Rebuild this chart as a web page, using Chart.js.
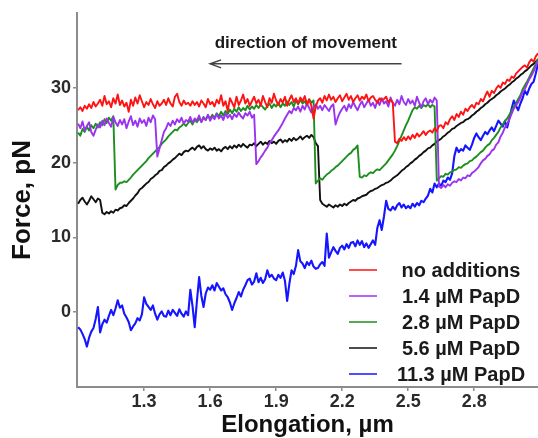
<!DOCTYPE html>
<html>
<head>
<meta charset="utf-8">
<script src="https://cdn.jsdelivr.net/npm/chart.js@4.4.1/dist/chart.umd.min.js"></script>
<style>
  html, body { margin: 0; padding: 0; background: #fff; }
  #wrap { width: 538px; height: 438px; }
</style>
</head>
<body>
<div id="wrap"><canvas id="chart" width="538" height="438"></canvas></div>
<script>
// elongation sampled every 0.01 um from 1.00 to 3.09
const xStart = 1.0;
const xStep = 0.01;

const xTicks = [1.3, 1.6, 1.9, 2.2, 2.5, 2.8];
const yTicks = [0, 10, 20, 30];

const labels = ['no additions', '1.4 \u00b5M PapD', '2.8 \u00b5M PapD', '5.6 \u00b5M PapD', '11.3 \u00b5M PapD'];
const colors = ['#ff1212', '#9a33f0', '#1e8e1e', '#111111', '#1515ff'];

const noAdditions = [
  27.0, 27.4, 26.9, 27.6, 27.2, 27.8, 27.3, 28.1, 27.5, 27.9,
  28.4, 27.6, 28.9, 27.8, 28.2, 27.4, 28.6, 27.9, 29.1, 27.7,
  28.3, 27.5, 28.0, 26.8, 28.4, 27.6, 28.7, 27.9, 29.0, 28.2,
  27.4, 28.1, 27.7, 28.5, 27.8, 27.3, 28.2, 27.6, 27.9, 28.4,
  27.7, 28.6, 27.9, 27.5, 28.8, 29.2, 28.1, 27.6, 28.3, 27.8,
  28.0, 27.6, 28.2, 27.7, 28.1, 27.5, 28.3, 27.9, 27.4, 28.5,
  27.8, 28.1, 27.5, 28.4, 27.9, 29.0, 27.6, 28.2, 26.9, 28.6,
  28.0, 27.4, 28.8, 27.7, 28.3, 29.1, 27.9, 28.5, 27.6, 28.2,
  28.8, 27.9, 28.4, 27.6, 28.9, 28.1, 27.4, 28.6, 28.0, 29.2,
  28.3, 27.7, 28.5, 28.0, 28.8, 27.6, 28.4, 29.0, 28.1, 28.6,
  27.9, 28.7, 28.2, 28.9, 27.8, 28.4, 27.6, 25.9, 27.5, 28.3,
  28.6, 28.0, 28.9, 28.3, 29.1, 28.4, 28.8, 28.1, 28.6, 29.0,
  28.2, 28.7, 29.2, 28.4, 28.9, 28.1, 28.6, 29.0, 28.3, 28.8,
  28.5, 29.1, 28.2, 28.7, 28.9, 28.4, 28.0, 28.6, 28.3, 28.5,
  28.8, 28.1, 28.4, 28.0, 22.8, 22.6, 23.2, 22.9, 23.4, 23.0,
  23.5, 23.1, 23.7, 23.3, 23.9, 23.5, 23.8, 24.2, 23.7, 24.1,
  24.3, 24.0, 24.6, 24.2, 24.9, 25.0, 24.6, 25.4, 25.1, 25.8,
  26.2, 25.7, 26.5, 26.1, 26.8, 26.4, 27.2, 26.9, 27.4, 27.7,
  27.3, 28.0, 27.8, 28.5, 28.2, 28.9, 29.5, 28.8, 29.6, 29.3,
  29.9, 30.3, 30.0, 30.7, 30.5, 31.1, 30.9, 31.5, 31.3, 31.9,
  32.2, 32.5, 32.8, 33.0, 32.7, 33.4, 33.8, 33.5, 34.2, 34.6
];

const papD14 = [
  25.2, 24.6, 25.5, 24.3, 24.9, 25.4, 24.1, 23.6, 24.4, 25.1,
  24.7, 25.6, 25.0, 25.9, 25.3, 24.8, 26.1, 25.4, 24.9, 25.7,
  25.1, 25.8, 24.6, 25.5, 26.2, 25.0, 25.6, 24.8, 25.9, 25.3,
  25.7, 24.9, 26.0, 25.4, 26.3, 25.8, 20.8, 21.9, 23.0, 24.1,
  24.6, 25.3, 24.9, 25.6, 25.1, 25.8, 25.4, 26.0, 25.2, 25.7,
  25.5, 26.1, 25.3, 25.9, 25.6, 26.3, 25.4, 26.0, 25.7, 26.4,
  25.6, 26.2, 25.8, 26.5, 25.9, 26.3, 25.7, 26.6, 26.0, 26.4,
  25.8, 26.5, 26.1, 26.7, 26.2, 25.9, 26.6, 26.3, 26.8, 26.0,
  26.4, 19.8, 20.2, 20.7, 21.1, 21.6, 22.0, 22.6, 23.0, 23.5,
  23.9, 24.3, 24.8, 25.3, 25.9, 26.4, 26.9, 26.6, 27.3, 27.0,
  27.5, 26.8, 27.6, 27.1, 27.9, 27.3, 26.7, 27.4, 27.8, 27.2,
  27.6, 27.0, 27.7, 27.3, 26.9, 27.5, 27.8, 25.1, 26.0, 26.7,
  27.2, 27.6, 26.9, 27.8, 27.3, 28.1, 27.5, 27.0, 27.7, 28.2,
  27.4, 27.9, 28.4, 27.6, 28.0, 27.3, 28.3, 27.7, 28.6, 27.9,
  28.2, 27.5, 28.7, 28.0, 27.6, 28.4, 27.8, 28.9, 28.1, 27.7,
  28.5, 27.9, 28.3, 27.6, 28.8, 28.0, 27.4, 28.2, 28.6, 27.8,
  28.4, 28.0, 28.7, 28.3, 16.8, 16.6, 17.0, 16.7, 17.1, 16.9,
  17.3, 17.5, 17.4, 17.8, 17.6, 18.0, 17.9, 18.3, 18.2, 18.6,
  18.8, 19.1, 19.4, 19.9, 20.3, 20.5, 20.9, 21.1, 21.6, 21.8,
  22.4, 22.7, 23.5, 24.0, 24.7, 25.2, 25.8, 26.5, 27.2, 27.6,
  28.1, 28.7, 29.4, 29.8, 30.5, 31.1, 31.6, 32.2, 32.9, 33.6
];

const papD28 = [
  24.0, 23.6, 24.5, 24.1, 24.8, 24.3, 25.0, 24.6, 25.2, 24.7,
  25.4, 25.0, 25.8, 25.3, 26.0, 25.6, 26.2, 16.4, 17.0, 17.3,
  17.3, 17.5, 17.4, 17.7, 18.0, 18.4, 18.7, 19.0, 19.3, 19.6,
  19.9, 20.2, 20.6, 20.9, 21.2, 21.5, 21.8, 22.1, 22.5, 22.8,
  23.1, 23.5, 23.8, 24.1, 24.4, 24.3, 24.7, 24.9, 25.2, 24.9,
  25.3, 25.6, 25.1, 25.7, 25.4, 25.9, 25.5, 26.1, 25.7, 26.3,
  25.9, 26.4, 26.0, 26.6, 26.2, 26.8, 26.3, 26.9, 26.5, 27.1,
  26.6, 27.2, 26.8, 27.4, 26.9, 27.3, 27.0, 27.6, 27.1, 27.5,
  27.2, 27.7, 27.3, 27.8, 27.4, 27.1, 27.6, 27.9, 27.3, 27.8,
  27.5, 28.0, 27.4, 27.9, 27.6, 28.2, 27.7, 28.1, 27.5, 28.3,
  27.8, 28.4, 27.9, 28.2, 27.7, 28.5, 28.0, 28.3, 17.2, 17.6,
  17.9, 17.7, 18.1, 18.4, 18.6, 18.9, 19.1, 19.4, 19.6, 19.9,
  20.2, 20.5, 20.8, 21.1, 21.3, 21.7, 21.9, 22.3, 18.1, 18.0,
  18.3, 18.2, 18.5, 18.7, 18.6, 18.9, 19.1, 19.0, 19.3, 19.6,
  19.9, 20.3, 20.7, 21.1, 21.6, 22.2, 22.9, 23.6, 24.3, 25.0,
  25.6, 26.3, 27.0, 27.4, 27.2, 27.6, 27.3, 27.7, 27.5, 27.8,
  27.4, 27.7, 27.5, 17.6, 17.9, 18.2, 18.1, 18.5, 18.4, 18.7,
  18.8, 19.0, 19.1, 19.4, 19.3, 19.6, 19.8, 19.9, 20.2, 20.3,
  20.6, 20.8, 21.1, 21.4, 21.6, 22.0, 22.3, 22.5, 23.0, 23.3,
  23.7, 24.1, 24.7, 25.1, 25.6, 25.9, 26.4, 26.9, 27.5, 27.9,
  28.5, 29.0, 29.8, 30.3, 30.8, 31.4, 32.0, 32.6, 33.2, 33.9
];

const papD56 = [
  14.5, 15.0, 15.3, 14.8, 14.4, 14.9, 15.5, 15.1, 14.7, 15.2,
  15.0, 13.3, 13.1, 13.4, 13.2, 13.5, 13.3, 13.7, 13.6, 13.9,
  14.0, 14.3, 14.2, 14.6, 14.9, 15.2, 15.6, 15.9, 16.4, 16.6,
  16.9, 17.2, 17.4, 17.8, 18.0, 18.3, 18.5, 18.9, 19.0, 19.4,
  19.6, 19.9, 20.1, 20.4, 20.6, 20.9, 21.2, 21.0, 21.4, 21.6,
  21.5, 21.8, 22.0, 21.7, 22.1, 22.3, 21.9, 22.2, 21.8, 21.6,
  21.9, 21.7, 22.0, 21.6, 21.8, 21.5, 21.9, 22.1, 21.8, 22.2,
  21.9, 22.3, 22.0, 22.4, 22.1, 22.5, 22.2, 22.0, 22.4, 22.3,
  22.6, 22.2, 22.5, 22.8, 22.4, 22.7, 22.5, 22.9, 22.6, 22.8,
  22.5, 22.9, 23.1, 22.7, 23.0, 22.8, 23.2, 22.9, 23.3, 23.0,
  23.2, 23.5, 23.1, 23.4, 23.6, 23.3, 23.7, 23.4, 22.6, 22.2,
  15.0, 14.5, 14.3, 14.1, 14.4, 14.2, 14.0, 14.3, 14.1, 14.4,
  14.2, 14.5, 14.3, 14.6, 14.8, 15.0, 14.9, 15.2, 15.3, 15.5,
  15.6, 15.7, 16.0, 16.2, 16.3, 16.5, 16.6, 16.8, 17.0, 17.1,
  17.3, 17.4, 17.6, 17.9, 18.1, 18.3, 18.6, 18.9, 19.1, 19.4,
  19.6, 19.9, 20.1, 20.4, 20.6, 20.9, 21.1, 21.4, 21.6, 21.9,
  22.0, 22.3, 22.5, 22.8, 23.0, 23.2, 23.5, 23.7, 24.0, 24.2,
  24.5, 24.6, 24.9, 25.1, 25.3, 25.4, 25.7, 25.8, 26.0, 26.3,
  26.5, 26.8, 27.0, 27.3, 27.5, 27.8, 28.0, 28.3, 28.5, 28.7,
  29.0, 29.2, 29.5, 29.7, 29.9, 30.2, 30.4, 30.7, 30.9, 31.2,
  31.4, 31.7, 31.9, 32.2, 32.4, 32.7, 33.0, 33.2, 33.5, 33.8
];

const papD113 = [
  -2.0, -2.3, -2.9, -3.6, -4.6, -3.4, -2.6, -2.1, -0.9, 0.7,
  -2.7, -1.6, -1.0, -1.4, -0.5, 0.3, -0.4, 0.5, 1.6, 0.6,
  0.9, -0.2, -0.7, -1.3, -2.4, -1.9, -1.5, -0.8, -1.1, -0.3,
  2.0, 1.1, 0.7, 0.3, 0.9, -0.2, -1.0, -0.3, 0.1, -0.5,
  -0.6, 0.2, -0.4, 0.3, -0.1, -0.5, 0.4, -0.2, -0.6, 0.1,
  -0.4, 3.0, 0.8, -2.0, 1.5, 4.7, 2.2, 0.7, 2.5, 3.3,
  3.0, 3.6, 2.9, 3.9, 3.4, 2.9, 3.2, 2.4, 2.0, 1.3,
  0.3, 1.2, 1.9, 2.7, 2.1, 3.0, 3.6, 4.3, 4.5, 3.7,
  4.1, 5.2, 4.0, 4.6, 3.9, 4.4, 5.6, 4.7, 5.0, 4.5,
  4.3, 5.0, 4.6, 5.3, 4.2, 1.5, 3.8, 5.6, 5.1, 6.2,
  8.3, 6.8, 6.5, 5.9, 6.7, 6.3, 6.9, 6.1, 5.8, 5.9,
  6.4, 6.7, 6.2, 10.5, 7.3, 8.0, 8.7, 8.2, 7.8, 8.6,
  8.9, 8.4, 9.1, 8.6, 9.3, 9.4, 8.8, 9.6, 9.0, 9.5,
  8.7, 9.2, 8.6, 9.1, 9.6, 9.0, 11.3, 12.3, 11.0, 12.8,
  14.9, 13.8, 13.6, 14.1, 13.7, 14.3, 14.6, 14.0, 14.4, 13.9,
  14.2, 13.9, 14.5, 14.1, 14.6, 14.3, 14.9, 14.7, 15.2, 15.6,
  16.5, 16.0, 17.2, 16.7, 17.2, 16.9, 17.6, 17.4, 18.0, 17.7,
  18.6, 20.9, 22.0, 21.4, 21.8, 21.6, 22.3, 22.0, 21.7, 22.4,
  23.3, 23.9, 23.4, 23.0, 23.6, 24.1, 23.8, 24.3, 24.7, 24.2,
  24.9, 25.6, 25.2, 24.8, 25.5, 24.7, 25.9, 27.2, 28.3, 27.6,
  27.0, 27.9, 28.6, 29.6, 29.1, 29.9, 30.5, 30.8, 31.9, 33.2
];

const noteText = 'direction of movement';
// arrow in data units: tail on the right, head on the left
const arrowTail = 2.47;
const arrowHead = 1.60;
const arrowLevel = 33.2;
const noteLevel = 35.3;

const FONT = '"Liberation Sans", Arial, Helvetica, sans-serif';

const allSeries = [noAdditions, papD14, papD28, papD56, papD113];
const elongation = noAdditions.map((_, i) => +(xStart + i * xStep).toFixed(2));

const datasets = allSeries.map((vals, k) => ({
    label: labels[k],
    data: vals.map((v, i) => ({ x: elongation[i], y: v })),
    borderColor: colors[k],
    borderWidth: k === 4 ? 2.1 : 1.9,
    borderJoinStyle: 'round',
    pointRadius: 0,
    tension: 0,
    fill: false
}));

const overlay = {
    id: 'overlay',
    afterDraw(chart) {
        const ctx = chart.ctx;
        const xs = chart.scales.x;
        const ys = chart.scales.y;
        ctx.save();

        // movement note + arrow
        const x0 = xs.getPixelForValue(arrowTail);
        const x1 = xs.getPixelForValue(arrowHead);
        const ya = ys.getPixelForValue(arrowLevel);
        ctx.font = 'bold 17px ' + FONT;
        ctx.fillStyle = '#1a1a1a';
        ctx.textAlign = 'center';
        ctx.textBaseline = 'alphabetic';
        ctx.fillText(noteText, (x0 + x1) / 2, ys.getPixelForValue(noteLevel));
        ctx.strokeStyle = '#444';
        ctx.lineWidth = 1.5;
        ctx.beginPath();
        ctx.moveTo(x0, ya);
        ctx.lineTo(x1, ya);
        ctx.moveTo(x1 + 11, ya - 4);
        ctx.lineTo(x1, ya);
        ctx.lineTo(x1 + 11, ya + 4);
        ctx.stroke();

        // legend in the lower right corner
        ctx.font = 'bold 20px ' + FONT;
        ctx.textBaseline = 'middle';
        chart.data.datasets.forEach((ds, i) => {
            const y = 270 + i * 26;
            ctx.strokeStyle = ds.borderColor;
            ctx.lineWidth = 1.5;
            ctx.beginPath();
            ctx.moveTo(349, y);
            ctx.lineTo(377, y);
            ctx.stroke();
            ctx.fillStyle = '#1a1a1a';
            ctx.fillText(ds.label, 461, y + 1);
        });
        ctx.restore();
    }
};

new Chart(document.getElementById('chart'), {
    type: 'line',
    data: { datasets: datasets },
    options: {
        responsive: false,
        animation: false,
        devicePixelRatio: 1,
        layout: { padding: { top: 13, right: 0, bottom: 0, left: 0 } },
        plugins: {
            legend: { display: false },
            tooltip: { enabled: false }
        },
        scales: {
            x: {
                type: 'linear',
                min: 0.995,
                max: 3.09,
                afterBuildTicks: s => { s.ticks = xTicks.map(v => ({ value: v })); },
                afterFit: s => { s.height = 51; },
                ticks: {
                    callback: v => v.toFixed(1),
                    font: { family: FONT, size: 18, weight: 'bold' },
                    color: '#2a2a2a',
                    padding: 0,
                    maxRotation: 0
                },
                grid: { drawOnChartArea: false, tickLength: 4, color: '#8c8c8c', lineWidth: 1.5 },
                border: { color: '#8c8c8c', width: 2 },
                title: {
                    display: true,
                    text: 'Elongation, \u00b5m',
                    font: { family: FONT, size: 24, weight: 'bold', lineHeight: 1 },
                    color: '#111',
                    padding: { top: 0, bottom: 1 }
                }
            },
            y: {
                min: -10,
                max: 40,
                afterBuildTicks: s => { s.ticks = yTicks.map(v => ({ value: v })); },
                afterFit: s => { s.width = 77; },
                ticks: {
                    font: { family: FONT, size: 18, weight: 'bold' },
                    color: '#2a2a2a',
                    padding: 2
                },
                grid: { drawOnChartArea: false, tickLength: 4, color: '#8c8c8c', lineWidth: 1.5 },
                border: { color: '#8c8c8c', width: 2 },
                title: {
                    display: true,
                    text: 'Force, pN',
                    font: { family: FONT, size: 26, weight: 'bold', lineHeight: 1 },
                    color: '#111',
                    padding: { top: 10, bottom: 0 }
                }
            }
        }
    },
    plugins: [overlay]
});
</script>
</body>
</html>
